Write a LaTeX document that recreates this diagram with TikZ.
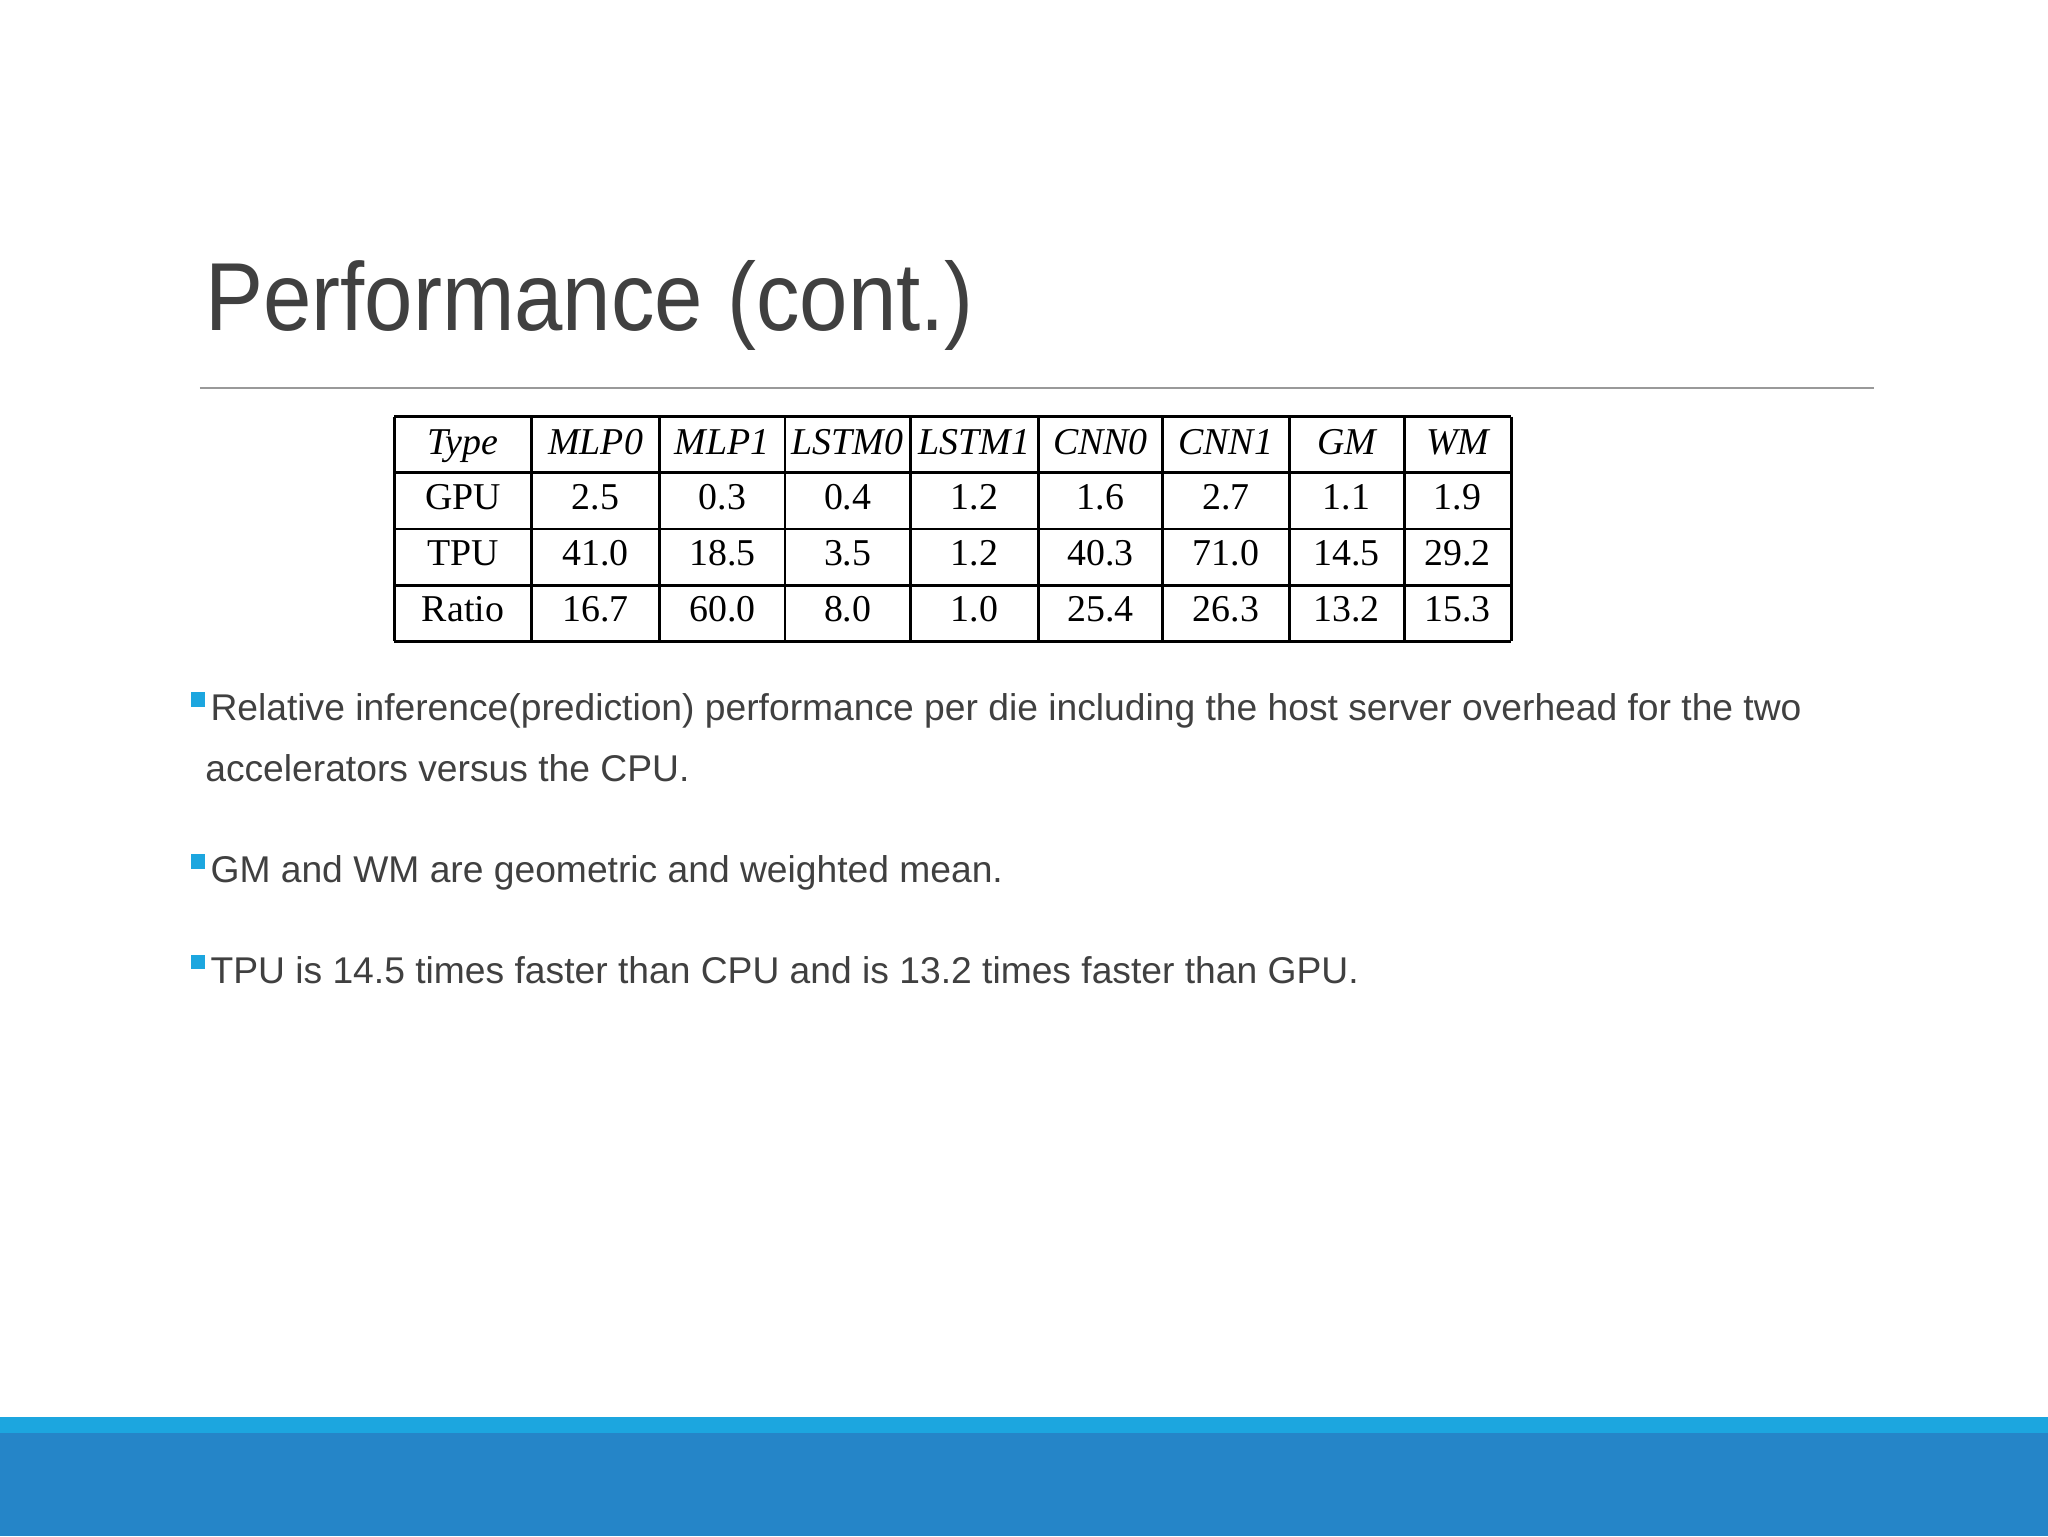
\documentclass[tikz,border=0pt]{standalone}
\usepackage{fontspec}
\setmainfont{Liberation Sans}
\newfontfamily\tabfont{Liberation Serif}
\definecolor{txtgray}{HTML}{404040}
\definecolor{bandlight}{HTML}{1CA6DF}
\definecolor{banddark}{HTML}{2585C8}
\definecolor{bulletblue}{HTML}{1CA6DF}
\tikzset{
  body/.style={anchor=base west,inner sep=0pt,text=txtgray,font=\fontsize{28.5}{32}\selectfont},
  cell/.style={inner sep=0pt,text height=20pt,text depth=6pt,font=\tabfont\fontsize{29}{34}\selectfont},
  hcell/.style={cell,font=\tabfont\itshape\fontsize{29}{34}\selectfont},
  bul/.style={fill=bulletblue,draw=none,minimum size=11pt,inner sep=0pt}
}
\begin{document}
\begin{tikzpicture}[x=1pt,y=-1pt]
\useasboundingbox (0,0) rectangle (1568,1176);
\fill[white] (0,0) rectangle (1568,1176);
% title
\node[anchor=base west,inner sep=0pt,text=txtgray,xscale=0.9,transform shape,font=\fontsize{74}{80}\selectfont] (title) at (157,253) {Performance (cont.)};
\draw[gray!80,line width=1.2pt] (153,297) -- (1435,297);
% table
\foreach \x in {302,407,505,601,697,795,890,987,1075,1157} \draw[line width=2.2pt] (\x,319) -- (\x,491);
\foreach \y in {319,362,405,448,491} \draw[line width=2.2pt] (302,\y) -- (1157,\y);
\foreach \t [count=\i] in {Type,MLP0,MLP1,LSTM0,LSTM1,CNN0,CNN1,GM,WM}{
  \pgfmathsetmacro\xa{{302,407,505,601,697,795,890,987,1075,1157}[\i-1]}
  \pgfmathsetmacro\xb{{302,407,505,601,697,795,890,987,1075,1157}[\i]}
  \node[hcell] (h\i) at ({(\xa+\xb)/2},341) {\t};
}
\foreach \t [count=\i] in {GPU,2.5,0.3,0.4,1.2,1.6,2.7,1.1,1.9}{
  \pgfmathsetmacro\xa{{302,407,505,601,697,795,890,987,1075,1157}[\i-1]}
  \pgfmathsetmacro\xb{{302,407,505,601,697,795,890,987,1075,1157}[\i]}
  \node[cell] (g\i) at ({(\xa+\xb)/2},383) {\t};
}
\foreach \t [count=\i] in {TPU,41.0,18.5,3.5,1.2,40.3,71.0,14.5,29.2}{
  \pgfmathsetmacro\xa{{302,407,505,601,697,795,890,987,1075,1157}[\i-1]}
  \pgfmathsetmacro\xb{{302,407,505,601,697,795,890,987,1075,1157}[\i]}
  \node[cell] (t\i) at ({(\xa+\xb)/2},426) {\t};
}
\foreach \t [count=\i] in {Ratio,16.7,60.0,8.0,1.0,25.4,26.3,13.2,15.3}{
  \pgfmathsetmacro\xa{{302,407,505,601,697,795,890,987,1075,1157}[\i-1]}
  \pgfmathsetmacro\xb{{302,407,505,601,697,795,890,987,1075,1157}[\i]}
  \node[cell] (r\i) at ({(\xa+\xb)/2},469) {\t};
}
% bullets
\node[bul] (b1) at (151.5,535.5) {};
\node[body] (l1) at (161,552) {Relative inference(prediction) performance per die including the host server overhead for the two};
\node[body] (l1b) at (157,598) {accelerators versus the CPU.};
\node[bul] (b2) at (151.5,659.5) {};
\node[body] (l2) at (161,676) {GM and WM are geometric and weighted mean.};
\node[bul] (b3) at (151.5,736.5) {};
\node[body] (l3) at (161,753) {TPU is 14.5 times faster than CPU and is 13.2 times faster than GPU.};
% band
\fill[bandlight] (0,1085) rectangle (1568,1098);
\fill[banddark] (0,1097) rectangle (1568,1176);
\end{tikzpicture}
\end{document}
